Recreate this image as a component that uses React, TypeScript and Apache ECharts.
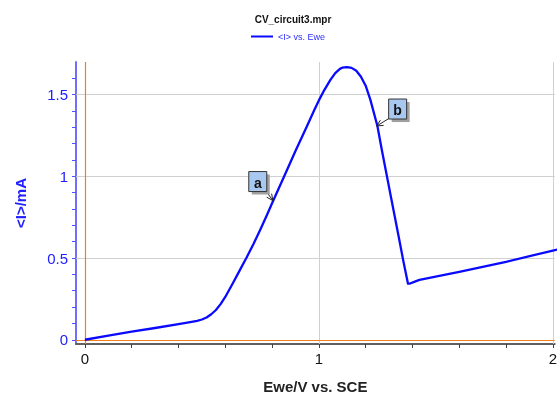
import React, { useEffect, useRef } from "react";
import * as echarts from "echarts";

const TITLE = "CV_circuit3.mpr";
const SERIES_NAME = "<I> vs. Ewe";
const X_NAME = "Ewe/V vs. SCE";
const Y_NAME = "<I>/mA";

const ewe = [0, 0.1, 0.2, 0.3, 0.4, 0.45, 0.48, 0.5, 0.52, 0.54, 0.56, 0.58, 0.6, 0.63, 0.66, 0.69, 0.72, 0.75, 0.78, 0.8, 0.85, 0.9, 0.95, 0.98, 1.0, 1.02, 1.05, 1.07, 1.09, 1.1, 1.12, 1.14, 1.16, 1.18, 1.2, 1.22, 1.25, 1.27, 1.31, 1.34, 1.36, 1.381, 1.39, 1.41, 1.43, 1.6, 1.8, 2.0, 2.02];
const current = [0, 0.025, 0.05, 0.072, 0.096, 0.108, 0.116, 0.124, 0.136, 0.156, 0.182, 0.218, 0.262, 0.34, 0.42, 0.5, 0.585, 0.675, 0.77, 0.835, 0.995, 1.155, 1.31, 1.405, 1.465, 1.52, 1.592, 1.632, 1.658, 1.665, 1.669, 1.664, 1.646, 1.61, 1.555, 1.47, 1.31, 1.155, 0.86, 0.64, 0.49, 0.343, 0.344, 0.356, 0.366, 0.415, 0.477, 0.546, 0.552];

const xLabelValues = [0, 1, 2];
const xTickValues = [0, 0.2, 0.4, 0.6, 0.8, 1, 1.2, 1.4, 1.6, 1.8, 2];
const yLabelValues = [0, 0.5, 1, 1.5];
const yTickValues = [0, 0.1, 0.2, 0.3, 0.4, 0.5, 0.6, 0.7, 0.8, 0.9, 1, 1.1, 1.2, 1.3, 1.4, 1.5, 1.6];
const xGrid = [1, 2];
const yGrid = [0.5, 1, 1.5];
const zeroX = [0];
const zeroY = [0];

const annotations = [
  { label: "a", x: 0.803, y: 0.852, dx: -24, dy: -29 },
  { label: "b", x: 1.247, y: 1.308, dx: 12, dy: -27 },
];

const FONT = "Liberation Sans, Arial, sans-serif";

export default function App() {
  const ref = useRef<HTMLDivElement>(null);
  useEffect(() => {
    if (!ref.current) return;
    const chart = echarts.init(ref.current, null, { renderer: "svg" });
    const data = ewe.map((x, i) => [x, current[i]]);
    const option: any = {
      animation: false,
      title: {
        text: TITLE,
        left: 288,
        textAlign: "center",
        top: 9,
        textStyle: { fontSize: 10, fontWeight: "bold", color: "#111", fontFamily: FONT },
      },
      legend: {
        data: [{ name: SERIES_NAME, icon: "rect" }],
        left: 246,
        top: 27,
        itemWidth: 22,
        itemHeight: 2,
        itemGap: 4,
        textStyle: { fontSize: 9, color: "#3030ff", fontFamily: FONT },
      },
      grid: { left: 76, top: 62, right: 0, bottom: 53, containLabel: false },
      xAxis: {
        type: "value",
        min: -0.038,
        max: 2.008,
        name: X_NAME,
        nameLocation: "middle",
        nameGap: 35,
        nameTextStyle: { fontSize: 15, fontWeight: "bold", color: "#222", fontFamily: FONT },
        axisLine: { onZero: false, lineStyle: { color: "#606060", width: 2 } },
        axisTick: { customValues: xTickValues, length: 4, lineStyle: { color: "#404040" } },
        axisLabel: {
          customValues: xLabelValues,
          fontSize: 15,
          color: "#111",
          margin: 7,
          fontFamily: FONT,
          formatter: (v: number) => String(v),
        },
        splitLine: { show: false },
      },
      yAxis: {
        type: "value",
        min: -0.026,
        max: 1.70,
        name: Y_NAME,
        nameLocation: "middle",
        nameRotate: 90,
        nameGap: 48,
        nameTextStyle: { fontSize: 15, fontWeight: "bold", color: "#2020ff", fontFamily: FONT },
        axisLine: { show: true, onZero: false, lineStyle: { color: "#7070ff", width: 2 } },
        axisTick: { show: true, customValues: yTickValues, length: 4, lineStyle: { color: "#5050ff" } },
        axisLabel: {
          customValues: yLabelValues,
          fontSize: 15,
          color: "#2020ff",
          margin: 8,
          fontFamily: FONT,
          formatter: (v: number) => String(v),
        },
        splitLine: { show: false },
      },
      series: [
        {
          name: SERIES_NAME,
          type: "line",
          data,
          showSymbol: false,
          smooth: false,
          lineStyle: { color: "#0a0aff", width: 2.3, join: "round" },
          itemStyle: { color: "#0a0aff" },
          z: 5,
          markLine: {
            silent: true,
            symbol: "none",
            label: { show: false },
            data: [
              ...xGrid.map((v) => ({ xAxis: v, lineStyle: { color: "#d0d0d0", width: 1, type: "solid" } })),
              ...yGrid.map((v) => ({ yAxis: v, lineStyle: { color: "#d0d0d0", width: 1, type: "solid" } })),
              ...zeroX.map((v) => ({ xAxis: v, lineStyle: { color: "#f07f20", width: 1.2, type: "solid" } })),
              ...zeroY.map((v) => ({ yAxis: v, lineStyle: { color: "#f07f20", width: 1.2, type: "solid" } })),
            ],
            z: 1,
          },
        },
      ],
    };
    chart.setOption(option);

    const graphics: any[] = [];
    annotations.forEach((a) => {
      const p = chart.convertToPixel({ gridIndex: 0 }, [a.x, a.y]) as number[];
      const bw = 18;
      const bh = 20;
      const bx = p[0] + a.dx;
      const by = p[1] + a.dy;
      const ox = a.dx < 0 ? bx + bw - 1 : bx + 1;
      const oy = by + bh - 1;
      const ang = Math.atan2(p[1] - oy, p[0] - ox);
      const hl = 7;
      const h1 = [p[0] - hl * Math.cos(ang - 0.45), p[1] - hl * Math.sin(ang - 0.45)];
      const h2 = [p[0] - hl * Math.cos(ang + 0.45), p[1] - hl * Math.sin(ang + 0.45)];
      graphics.push(
        { type: "line", shape: { x1: ox, y1: oy, x2: p[0], y2: p[1] }, style: { stroke: "#222", lineWidth: 1 }, z: 20 },
        { type: "polyline", shape: { points: [h1, [p[0], p[1]], h2] }, style: { stroke: "#222", lineWidth: 1, fill: null }, z: 20 },
        { type: "rect", shape: { x: bx + 3, y: by + 3, width: bw, height: bh }, style: { fill: "#a0a0a0" }, z: 20 },
        { type: "rect", shape: { x: bx, y: by, width: bw, height: bh }, style: { fill: "#a9c8f0", stroke: "#333", lineWidth: 1 }, z: 21 },
        {
          type: "text",
          x: bx + bw / 2,
          y: by + bh / 2 + 1,
          style: { text: a.label, fontSize: 14, fontWeight: "bold", fill: "#111", align: "center", verticalAlign: "middle", fontFamily: FONT },
          z: 22,
        }
      );
    });
    chart.setOption({ graphic: graphics });
    return () => chart.dispose();
  }, []);
  return <div ref={ref} style={{ position: "fixed", left: 0, top: 0, width: 560, height: 399 }} />;
}
